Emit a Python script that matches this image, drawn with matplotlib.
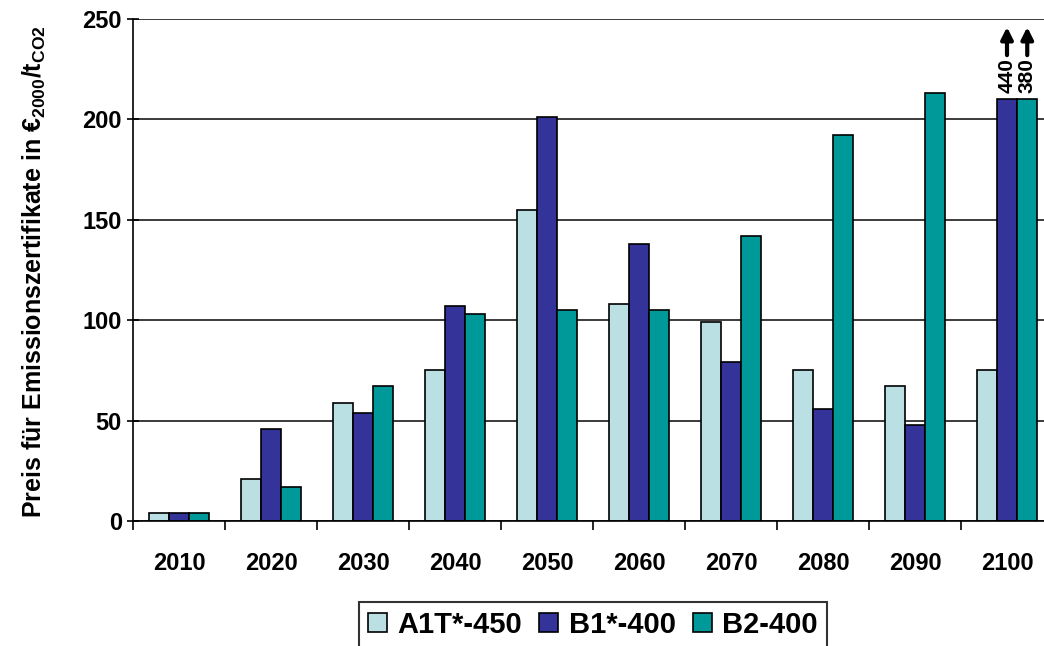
import matplotlib
matplotlib.use("Agg")
import matplotlib.pyplot as plt
import numpy as np
from matplotlib.patches import Rectangle

plt.rcParams['font.family'] = ['Liberation Sans', 'DejaVu Sans']
plt.rcParams['font.weight'] = 'bold'
plt.rcParams['mathtext.fontset'] = 'custom'
plt.rcParams['mathtext.rm'] = 'Liberation Sans:bold'
plt.rcParams['mathtext.it'] = 'Liberation Sans:bold'
plt.rcParams['mathtext.bf'] = 'Liberation Sans:bold'

years = ["2010", "2020", "2030", "2040", "2050", "2060", "2070", "2080", "2090", "2100"]
series_names = ["A1T*-450", "B1*-400", "B2-400"]
a1t_450 = [4, 21, 59, 75, 155, 108, 99, 75, 67, 75]
b1_400 = [4, 46, 54, 107, 201, 138, 79, 56, 48, 440]
b2_400 = [4, 17, 67, 103, 105, 105, 142, 192, 213, 380]
colors = ["#BBE0E3", "#333399", "#009999"]
y_max = 250
cut_level = 210  # off-scale bars are drawn cut at this level and labelled
yticks = [0, 50, 100, 150, 200, 250]

fig = plt.figure(figsize=(10.44, 6.46), dpi=100)
ax = fig.add_axes([133/1044, 125/646, 920/1044, 502/646])

x = np.arange(len(years))
w = 0.22
series = [a1t_450, b1_400, b2_400]
for i, (vals, c, name) in enumerate(zip(series, colors, series_names)):
    shown = [cut_level if v > y_max else v for v in vals]
    ax.bar(x + (i - 1) * w, shown, width=w, color=c, edgecolor='black',
           linewidth=1.2, label=name, zorder=3)
    for xi, v in zip(x, vals):
        if v > y_max:
            xc = xi + (i - 1) * w
            ax.text(xc, 213, str(v), rotation=90, ha='center', va='bottom',
                    fontsize=15, fontweight='bold', zorder=5)
            ax.annotate('', xy=(xc, 246), xytext=(xc, 232),
                        arrowprops=dict(arrowstyle='-|>,head_width=0.35,head_length=0.7',
                                        lw=3, color='black', shrinkA=0, shrinkB=0),
                        zorder=5, annotation_clip=False)

ax.set_xlim(-0.5, len(years) - 0.5)
ax.set_ylim(0, y_max)
ax.set_yticks(yticks)
ax.set_yticklabels([str(t) for t in yticks], fontsize=17, fontweight='bold')
ax.set_xticks(np.arange(len(years) + 1) - 0.5)
ax.set_xticklabels([])
ax.set_xticks(x, minor=True)
ax.set_xticklabels(years, minor=True, fontsize=17, fontweight='bold')
ax.tick_params(axis='x', which='major', direction='out', length=6.5, width=1.2)
ax.tick_params(axis='x', which='minor', length=0, pad=22)
ax.tick_params(axis='y', direction='inout', length=8, width=1.2, pad=4)
ax.yaxis.grid(True, color='#1a1a1a', linewidth=1.2, zorder=0)
ax.set_axisbelow(True)
for s in ['top', 'right']:
    ax.spines[s].set_visible(False)
ax.spines['left'].set_linewidth(1.2)
ax.spines['bottom'].set_linewidth(1.2)
ax.spines['bottom'].set_zorder(4)

fig.text(34/1044, 1 - 272/646,
         "Preis für Emissionszertifikate in €$_{2000}$/t$_{\\mathrm{CO2}}$",
         rotation=90, ha='center', va='center', fontsize=18, fontweight='bold')

handles = [Rectangle((0, 0), 1, 1, facecolor=c, edgecolor='black', linewidth=1.2) for c in colors]
leg = fig.legend(handles, series_names, loc='upper center',
                 bbox_to_anchor=(593/1044, 1 - 602/646), ncol=3, frameon=True,
                 fancybox=False, edgecolor='black', prop={'size': 21, 'weight': 'bold'},
                 handlelength=0.65, handleheight=0.65, handletextpad=0.35,
                 columnspacing=0.6, borderpad=0.3, borderaxespad=0)
leg.get_frame().set_linewidth(1.5)

fig.savefig("out.png", dpi=100)
